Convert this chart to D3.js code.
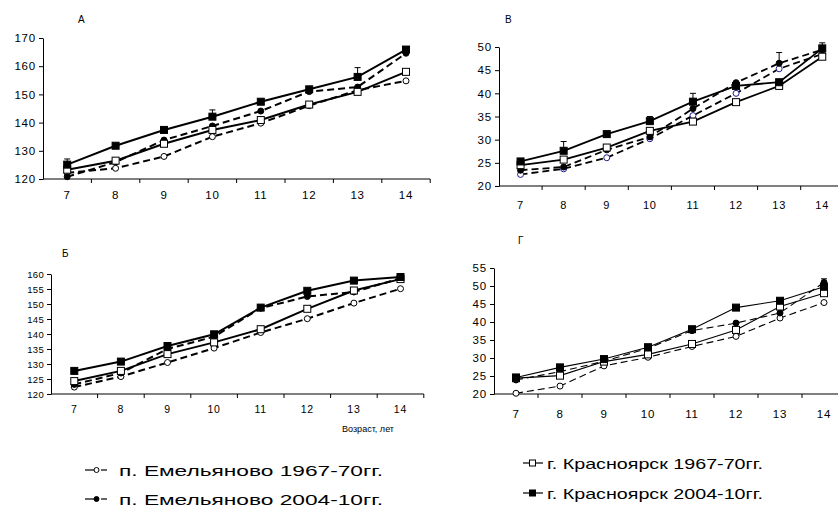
<!DOCTYPE html>
<html>
<head>
<meta charset="utf-8">
<script src="https://cdn.jsdelivr.net/npm/d3@7"></script>
<style>
body { margin: 0; background: #fff; }
svg text { font-family: "Liberation Sans", Arial, sans-serif; fill: #000; }
</style>
</head>
<body>
<svg id="chart" width="838" height="506"></svg>
<script>
var ages = [7, 8, 9, 10, 11, 12, 13, 14];

// А
var aEm67 = [122.2, 123.8, 128, 135, 139.8, 146, 151.5, 154.8];
var aEm04 = [120.8, 126, 133.8, 138.8, 144.1, 151, 152.6, 164.6];
var aKr67 = [123.3, 126.5, 132.5, 137.4, 140.9, 146.4, 150.9, 158];
var aKr04 = [125.1, 131.8, 137.4, 142.1, 147.4, 151.8, 156.2, 165.9];
var aErr  = [["kr04", 7, 2], ["kr04", 10, 2.4], ["kr04", 13, 3.3]];

// В
var vEm67 = [22.5, 23.7, 26.1, 30.2, 35.2, 40, 45.3, 48.5];
var vEm04 = [23.4, 24.1, 27.8, 30.6, 36.7, 42.3, 46.5, 49.4];
var vKr67 = [24.5, 25.7, 28.3, 31.9, 33.9, 38.1, 41.6, 47.9];
var vKr04 = [25.3, 27.6, 31.2, 34, 38.2, 41.6, 42.4, 49.7];
var vErr  = [["kr04", 8, 2], ["kr04", 10, 1], ["kr04", 11, 1.8], ["em04", 13, 2.3], ["kr04", 14, 1.2]];

// Б
var bEm67 = [122.3, 125.8, 130.5, 135.3, 140.5, 145.1, 150.3, 155.1];
var bEm04 = [123.2, 127, 135, 139.1, 148.6, 152.5, 154, 158.6];
var bKr67 = [124.3, 127.7, 133.3, 137.2, 141.6, 148.4, 154.5, 158.3];
var bKr04 = [127.7, 130.8, 136, 139.9, 148.8, 154.4, 157.8, 159];
var bErr  = [];

// Г
var gEm67 = [20.2, 22.2, 27.8, 30.2, 33.2, 36, 41.1, 45.4];
var gEm04 = [23.9, 26.2, 29.1, 32.7, 37.6, 39.7, 42.5, 51];
var gKr67 = [24.4, 25.1, 29, 31, 33.9, 37.8, 44.3, 48];
var gKr04 = [24.6, 27.4, 29.7, 33, 38, 44, 45.9, 49.8];
var gErr  = [["em04", 14, 1]];

var legendLeft  = ["п. Емельяново 1967-70гг.", "п. Емельяново 2004-10гг."];
var legendRight = ["г. Красноярск 1967-70гг.", "г. Красноярск 2004-10гг."];
var xTitle = "Возраст, лет";

var series = [
	{ key: "em67", dash: "7,4", marker: "circle", fill: "#fff" },
	{ key: "em04", dash: "7,4", marker: "circle", fill: "#000" },
	{ key: "kr67", dash: null,  marker: "square", fill: "#fff" },
	{ key: "kr04", dash: null,  marker: "square", fill: "#000" }
];

var panels = [
	{ title: "А", tx: 78,  ty: 23,  left: 43,  band: 48.4, top: 38,  bottom: 179, ymin: 120, ymax: 170, step: 10,
	  dy: 20, lw: 2, fs: 11.5, fsY: 11.5, openColor: "#000",
	  data: { em67: aEm67, em04: aEm04, kr67: aKr67, kr04: aKr04 }, err: aErr },
	{ title: "В", tx: 505, ty: 23,  left: 499, band: 43.1, top: 47,  bottom: 186, ymin: 20,  ymax: 50,  step: 5,
	  dy: 23, lw: 1.8, fs: 11, fsY: 11.5, openColor: "#1c1c8a",
	  data: { em67: vEm67, em04: vEm04, kr67: vKr67, kr04: vKr04 }, err: vErr },
	{ title: "Б", tx: 62,  ty: 257, left: 51,  band: 46.6, top: 274, bottom: 394, ymin: 120, ymax: 160, step: 5,
	  dy: 19, lw: 2, fs: 10.5, fsY: 9.5, openColor: "#000",
	  data: { em67: bEm67, em04: bEm04, kr67: bKr67, kr04: bKr04 }, err: bErr },
	{ title: "Г", tx: 518, ty: 244, left: 494, band: 44,   top: 268, bottom: 394, ymin: 20,  ymax: 55,  step: 5,
	  dy: 24, lw: 1.1, fs: 11.5, fsY: 11.5, openColor: "#000",
	  data: { em67: gEm67, em04: gEm04, kr67: gKr67, kr04: gKr04 }, err: gErr }
];

var svg = d3.select("#chart");

panels.forEach(function(p) {
	var g = svg.append("g");
	var x = d3.scaleBand().domain(ages).range([p.left, p.left + p.band * ages.length]).paddingInner(0);
	var y = d3.scaleLinear().domain([p.ymin, p.ymax]).range([p.bottom, p.top]);
	var cx = function(a) { return x(a) + x.bandwidth() / 2; };

	// y axis
	var yAxis = d3.axisLeft(y)
		.tickValues(d3.range(p.ymin, p.ymax + p.step / 2, p.step))
		.tickSize(4).tickSizeOuter(0).tickPadding(3);
	var ya = g.append("g").attr("transform", "translate(" + p.left + ",0)").call(yAxis);
	ya.selectAll("text").attr("font-size", p.fsY).attr("font-family", null).attr("letter-spacing", p.fsY > 10 ? 0.8 : 0.3);
	ya.selectAll("path, line").attr("stroke", "#000");

	// x axis: line, ticks at band boundaries, labels at centers
	var xr = x.range();
	g.append("line").attr("x1", xr[0]).attr("x2", xr[1]).attr("y1", p.bottom).attr("y2", p.bottom)
		.attr("stroke", "#000");
	g.selectAll(".xt").data(ages.slice(1).concat(["end"])).enter().append("line")
		.attr("x1", function(a) { return a === "end" ? xr[1] : x(a); })
		.attr("x2", function(a) { return a === "end" ? xr[1] : x(a); })
		.attr("y1", p.bottom).attr("y2", p.bottom + 4).attr("stroke", "#000");
	g.selectAll(".xl").data(ages).enter().append("text")
		.attr("x", cx).attr("y", p.bottom + p.dy)
		.attr("text-anchor", "middle").attr("font-size", p.fs).attr("letter-spacing", 0.8)
		.text(function(a) { return a; });

	// title
	g.append("text").attr("x", p.tx).attr("y", p.ty).attr("font-size", 10).text(p.title);

	// lines
	series.forEach(function(s) {
		var vals = p.data[s.key];
		var line = d3.line().x(function(d, i) { return cx(ages[i]); }).y(function(d) { return y(d); });
		g.append("path").datum(vals).attr("d", line)
			.attr("fill", "none").attr("stroke", "#000").attr("stroke-width", p.lw)
			.attr("stroke-dasharray", s.dash);
	});

	// error bars
	p.err.forEach(function(e) {
		var s = p.data[e[0]][ages.indexOf(e[1])];
		var xx = cx(e[1]);
		g.append("line").attr("x1", xx).attr("x2", xx).attr("y1", y(s)).attr("y2", y(s + e[2]))
			.attr("stroke", "#000").attr("stroke-width", 1);
		g.append("line").attr("x1", xx - 3).attr("x2", xx + 3).attr("y1", y(s + e[2])).attr("y2", y(s + e[2]))
			.attr("stroke", "#000").attr("stroke-width", 1);
	});

	// markers
	series.forEach(function(s) {
		var vals = p.data[s.key];
		var stroke = (s.fill === "#fff" && s.marker === "circle") ? p.openColor : "#000";
		if (s.marker === "circle") {
			g.selectAll(null).data(vals).enter().append("circle")
				.attr("cx", function(d, i) { return cx(ages[i]); })
				.attr("cy", function(d) { return y(d); })
				.attr("r", 3).attr("fill", s.fill).attr("stroke", stroke).attr("stroke-width", 1);
		} else {
			g.selectAll(null).data(vals).enter().append("rect")
				.attr("x", function(d, i) { return cx(ages[i]) - 3.5; })
				.attr("y", function(d) { return y(d) - 3.5; })
				.attr("width", 7).attr("height", 7)
				.attr("fill", s.fill).attr("stroke", "#000").attr("stroke-width", 1);
		}
	});
});

// x title
svg.append("text").attr("x", 342).attr("y", 432).attr("font-size", 9)
	.attr("textLength", 52).attr("lengthAdjust", "spacingAndGlyphs").text(xTitle);

// legend
var lg = svg.append("g");
var leftY = [470, 499];
legendLeft.forEach(function(t, i) {
	var yy = leftY[i];
	lg.append("line").attr("x1", 85).attr("x2", 94).attr("y1", yy).attr("y2", yy).attr("stroke", "#000").attr("stroke-width", 1.2);
	lg.append("line").attr("x1", 101).attr("x2", 107).attr("y1", yy).attr("y2", yy).attr("stroke", "#000").attr("stroke-width", 1.2);
	lg.append("circle").attr("cx", 96.5).attr("cy", yy).attr("r", 2.5)
		.attr("fill", i === 0 ? "#fff" : "#000").attr("stroke", "#000");
	lg.append("text").attr("x", 119).attr("y", yy + 5.5).attr("font-size", 15)
		.attr("textLength", 264).attr("lengthAdjust", "spacingAndGlyphs").text(t);
});
var rightY = [463, 493];
legendRight.forEach(function(t, i) {
	var yy = rightY[i];
	lg.append("line").attr("x1", 523).attr("x2", 543).attr("y1", yy).attr("y2", yy).attr("stroke", "#000").attr("stroke-width", 1.2);
	lg.append("rect").attr("x", 529.5).attr("y", yy - 3).attr("width", 6).attr("height", 6)
		.attr("fill", i === 0 ? "#fff" : "#000").attr("stroke", "#000");
	lg.append("text").attr("x", 547).attr("y", yy + 5.5).attr("font-size", 15)
		.attr("textLength", 216).attr("lengthAdjust", "spacingAndGlyphs").text(t);
});
</script>
</body>
</html>
